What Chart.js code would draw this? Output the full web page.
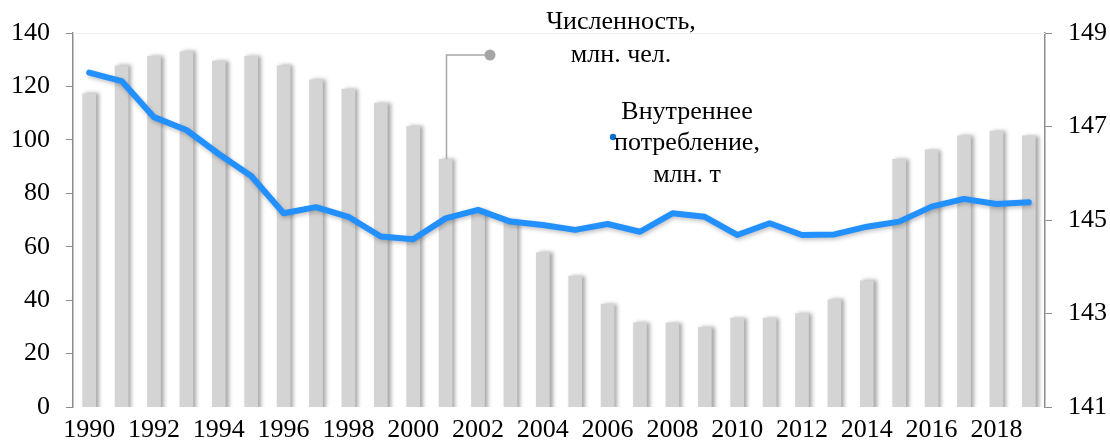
<!DOCTYPE html>
<html><head><meta charset="utf-8">
<script src="https://cdn.jsdelivr.net/npm/chart.js@4/dist/chart.umd.min.js"></script>
<style>html,body{margin:0;padding:0;background:#fff}#wrap{width:1110px;height:441px}</style>
</head><body><div id="wrap"><canvas id="c" width="1110" height="441"></canvas></div>
<script>
const years = ["1990","1991","1992","1993","1994","1995","1996","1997","1998","1999","2000","2001","2002","2003","2004","2005","2006","2007","2008","2009","2010","2011","2012","2013","2014","2015","2016","2017","2018","2019"];
const population = [147.7,148.3,148.5,148.6,148.4,148.5,148.3,148.0,147.8,147.5,147.0,146.3,145.2,145.0,144.3,143.8,143.2,142.8,142.8,142.7,142.9,142.9,143.0,143.3,143.7,146.3,146.5,146.8,146.9,146.8];
const consumption = [125.2,122.0,108.5,103.7,94.7,86.5,72.5,74.8,71.2,63.8,62.8,70.6,73.8,69.4,68.1,66.3,68.5,65.6,72.5,71.2,64.4,68.8,64.4,64.6,67.5,69.4,75.0,77.9,76.0,76.6];
const leftTicks = [0,20,40,60,80,100,120,140];
const rightTicks = [141,143,145,147,149];
const popLabel = ["Численность,","млн. чел."];
const consLabel = ["Внутреннее","потребление,","млн. т"];
const calloutYear = "2001";

const FONT = "'Liberation Serif','Times New Roman',serif";
const FS = 26;

const shadowPlugin = {
  id:'shadow',
  beforeDatasetDraw(chart,args){
    const ctx=chart.ctx; ctx.save();
    if(args.index===0){ctx.shadowColor='rgba(0,0,0,0.35)';ctx.shadowBlur=4;ctx.shadowOffsetX=3;ctx.shadowOffsetY=0;}
    else {ctx.shadowColor='rgba(0,0,0,0.25)';ctx.shadowBlur=4;ctx.shadowOffsetX=1;ctx.shadowOffsetY=2;}
  },
  afterDatasetDraw(chart){chart.ctx.restore();}
};

const annotPlugin = {
  id:'annot',
  afterDraw(chart){
    const ctx=chart.ctx, x=chart.scales.x, yR=chart.scales.yR, ca=chart.chartArea;
    ctx.save();
    ctx.strokeStyle='#f0f0f0';ctx.lineWidth=1;
    ctx.beginPath();ctx.moveTo(ca.left,ca.top+0.5);ctx.lineTo(ca.right,ca.top+0.5);ctx.stroke();
    const i=years.indexOf(calloutYear);
    const bx=Math.round(x.getPixelForValue(i))+0.5, by=yR.getPixelForValue(population[i]);
    ctx.strokeStyle='#a6a6a6';ctx.lineWidth=1.5;
    ctx.beginPath();ctx.moveTo(bx,by);ctx.lineTo(bx,55);ctx.lineTo(490,55);ctx.stroke();
    ctx.fillStyle='#a6a6a6';ctx.beginPath();ctx.arc(490,55,5.5,0,Math.PI*2);ctx.fill();
    ctx.fillStyle='#0a70c8';ctx.beginPath();ctx.arc(613,137,3.2,0,Math.PI*2);ctx.fill();
    ctx.fillStyle='#000';ctx.font=FS+'px '+FONT;ctx.textAlign='center';ctx.textBaseline='middle';
    popLabel.forEach((t,k)=>ctx.fillText(t,621,22+k*33));
    consLabel.forEach((t,k)=>ctx.fillText(t,687,112+k*31.5));
    ctx.restore();
  }
};

new Chart(document.getElementById('c'),{
  data:{labels:years,datasets:[
    {type:'bar',label:popLabel.join(' '),data:population,yAxisID:'yR',backgroundColor:'#d4d4d4',barThickness:13,order:2},
    {type:'line',label:consLabel.join(' '),data:consumption,yAxisID:'yL',borderColor:'#2290ff',borderWidth:6,pointRadius:0,tension:0,borderJoinStyle:'round',borderCapStyle:'round',order:1}
  ]},
  options:{
    responsive:false,animation:false,
    layout:{padding:{top:33,left:0,right:0,bottom:0}},
    plugins:{legend:{display:false},tooltip:{enabled:false}},
    scales:{
      x:{offset:true,grid:{display:false,drawTicks:false},border:{display:false},
        ticks:{color:'#000',font:{family:FONT,size:FS},maxRotation:0,autoSkip:false,padding:8,
          callback:(v,i)=>i%2===0?years[i]:''},
        afterFit(s){s.height=34;}},
      yL:{position:'left',min:0,max:140,
        afterBuildTicks(s){s.ticks=leftTicks.map(v=>({value:v}));},
        grid:{drawOnChartArea:false,drawTicks:true,tickLength:7,color:'#8c8c8c'},
        border:{display:true,color:'#8c8c8c',width:1.5},
        ticks:{color:'#000',font:{family:FONT,size:FS},padding:16},
        afterFit(s){s.width=73;}},
      yR:{position:'right',min:141,max:149,
        afterBuildTicks(s){s.ticks=rightTicks.map(v=>({value:v}));},
        grid:{drawOnChartArea:false,drawTicks:true,tickLength:7,color:'#8c8c8c'},
        border:{display:true,color:'#8c8c8c',width:1.5},
        ticks:{color:'#000',font:{family:FONT,size:FS},padding:16},
        afterFit(s){s.width=65;}}
    }
  },
  plugins:[shadowPlugin,annotPlugin]
});
</script></body></html>
